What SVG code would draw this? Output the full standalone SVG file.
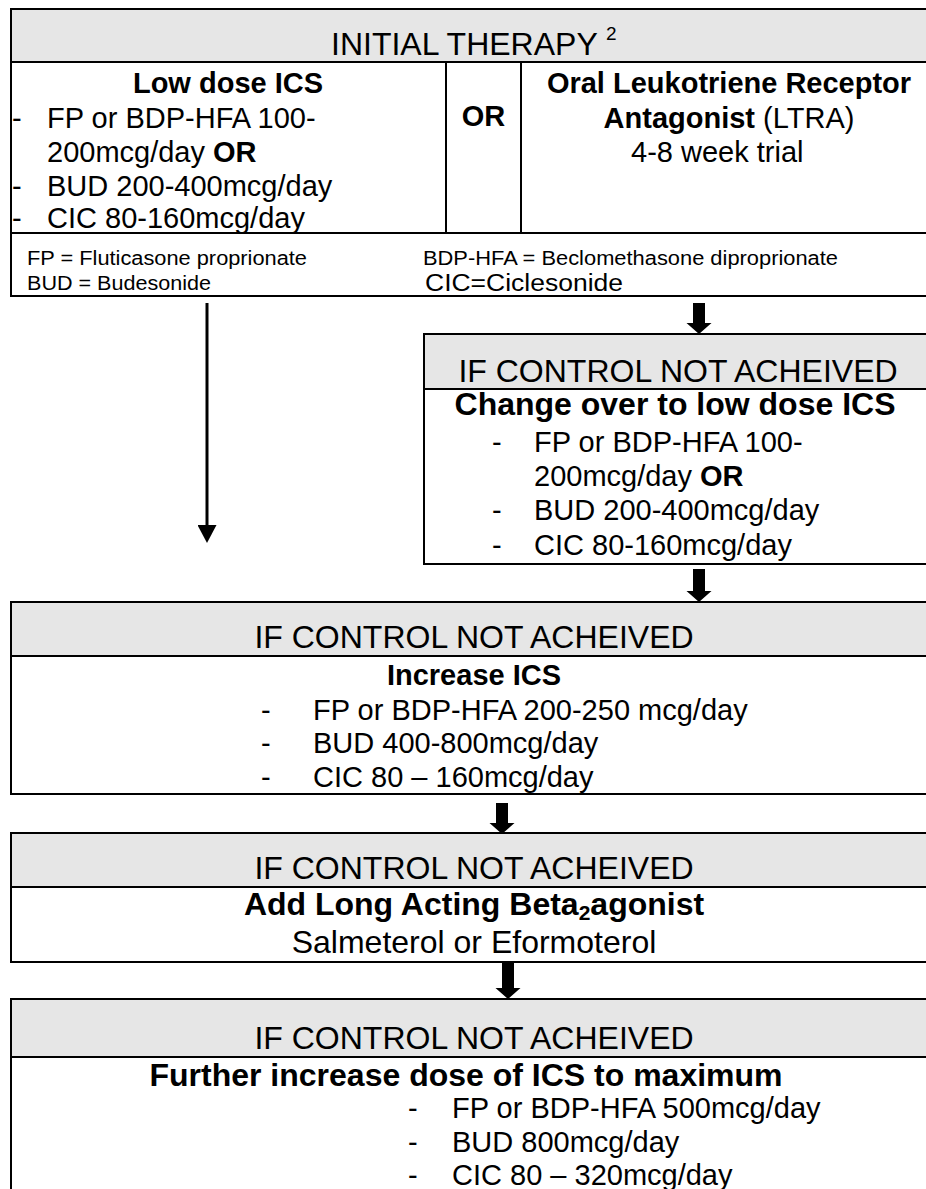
<svg xmlns="http://www.w3.org/2000/svg" width="926" height="1189" viewBox="0 0 926 1189">
<style>
.box{fill:#fff;stroke:#000;stroke-width:2}
.hdr{fill:#e6e6e6;stroke:#000;stroke-width:2}
.ln{stroke:#000;stroke-width:2;fill:none}
text{font-family:"Liberation Sans",Arial,Helvetica,sans-serif;fill:#000}
.h{font-size:32px}
.b{font-size:29px}
.bb{font-size:29px;font-weight:bold}
.hb{font-size:32px;font-weight:bold}
.fn{font-size:20px}
.c{text-anchor:middle}
.arw{fill:#000}
</style>
<defs>
<marker id="ah" markerWidth="18" markerHeight="19" refX="2" refY="9.5" orient="auto" markerUnits="userSpaceOnUse" viewBox="0 0 18 19">
<path d="M0 0 L18 9.5 L0 19 Z" fill="#000"/>
</marker>
</defs>

<g id="initial-therapy">
<rect class="box" x="11" y="9" width="935" height="287"/>
<rect class="hdr" x="11" y="9" width="935" height="53"/>
<line class="ln" x1="11" y1="233" x2="946" y2="233"/>
<line class="ln" x1="446" y1="62" x2="446" y2="233"/>
<line class="ln" x1="521" y1="62" x2="521" y2="233"/>
<text class="h" x="331" y="55">INITIAL THERAPY</text>
<text x="606" y="40" style="font-size:19px">2</text>
<text class="bb c" x="228" y="93">Low dose ICS</text>
<text class="b" x="12" y="128">-</text>
<text class="b" x="47" y="128">FP or BDP-HFA 100-</text>
<text class="b" x="47" y="162">200mcg/day <tspan font-weight="bold">OR</tspan></text>
<text class="b" x="12" y="196">-</text>
<text class="b" x="47" y="196">BUD 200-400mcg/day</text>
<text class="b" x="12" y="228">-</text>
<text class="b" x="47" y="228">CIC 80-160mcg/day</text>
<text class="bb c" x="483.5" y="126">OR</text>
<text class="bb c" x="729" y="93">Oral Leukotriene Receptor</text>
<text class="b c" x="729" y="128"><tspan font-weight="bold">Antagonist</tspan> (LTRA)</text>
<text class="b" x="631" y="162">4-8 week trial</text>
<text class="fn" x="27" y="265" textLength="280" lengthAdjust="spacingAndGlyphs">FP = Fluticasone proprionate</text>
<text class="fn" x="27" y="290" textLength="184" lengthAdjust="spacingAndGlyphs">BUD = Budesonide</text>
<text class="fn" x="423" y="265" textLength="415" lengthAdjust="spacingAndGlyphs">BDP-HFA = Beclomethasone diproprionate</text>
<text x="425" y="291" style="font-size:23px" textLength="198" lengthAdjust="spacingAndGlyphs">CIC=Ciclesonide</text>
</g>

<g id="change-over">
<rect class="box" x="424" y="334" width="522" height="230"/>
<rect class="hdr" x="424" y="334" width="522" height="55"/>
<text class="h c" x="678" y="382">IF CONTROL NOT ACHEIVED</text>
<text class="hb c" x="675" y="415">Change over to low dose ICS</text>
<text class="b" x="492" y="452">-</text>
<text class="b" x="534" y="452">FP or BDP-HFA 100-</text>
<text class="b" x="534" y="486">200mcg/day <tspan font-weight="bold">OR</tspan></text>
<text class="b" x="492" y="520">-</text>
<text class="b" x="534" y="520">BUD 200-400mcg/day</text>
<text class="b" x="492" y="555">-</text>
<text class="b" x="534" y="555">CIC 80-160mcg/day</text>
</g>

<g id="increase-ics">
<rect class="box" x="11" y="602" width="935" height="192"/>
<rect class="hdr" x="11" y="602" width="935" height="54"/>
<text class="h c" x="474" y="648">IF CONTROL NOT ACHEIVED</text>
<text class="bb c" x="474" y="685">Increase ICS</text>
<text class="b" x="261" y="720">-</text>
<text class="b" x="313" y="720">FP or BDP-HFA 200-250 mcg/day</text>
<text class="b" x="261" y="753">-</text>
<text class="b" x="313" y="753">BUD 400-800mcg/day</text>
<text class="b" x="261" y="787">-</text>
<text class="b" x="313" y="787">CIC 80 – 160mcg/day</text>
</g>

<g id="add-laba">
<rect class="box" x="11" y="833" width="935" height="129"/>
<rect class="hdr" x="11" y="833" width="935" height="54"/>
<text class="h c" x="474" y="879">IF CONTROL NOT ACHEIVED</text>
<text class="hb c" x="474" y="915">Add Long Acting Beta<tspan style="font-size:21px" dy="5">2</tspan><tspan dy="-5">agonist</tspan></text>
<text class="h c" x="474" y="953">Salmeterol or Eformoterol</text>
</g>

<g id="maximum-ics">
<rect class="box" x="11" y="999" width="935" height="230"/>
<rect class="hdr" x="11" y="999" width="935" height="58"/>
<text class="h c" x="474" y="1049">IF CONTROL NOT ACHEIVED</text>
<text class="hb c" x="466" y="1086">Further increase dose of ICS to maximum</text>
<text class="b" x="408" y="1118">-</text>
<text class="b" x="452" y="1118">FP or BDP-HFA 500mcg/day</text>
<text class="b" x="408" y="1152">-</text>
<text class="b" x="452" y="1152">BUD 800mcg/day</text>
<text class="b" x="408" y="1185">-</text>
<text class="b" x="452" y="1185">CIC 80 – 320mcg/day</text>
</g>

<g id="connectors">
<line x1="207" y1="303" x2="207" y2="527" stroke="#000" stroke-width="3" marker-end="url(#ah)"/>
<path class="arw" d="M693 303 H705 V323 H711.5 L699 334 L686.5 323 H693 Z"/>
<path class="arw" d="M693 569 H705 V591 H711.5 L699 602 L686.5 591 H693 Z"/>
<path class="arw" d="M496 803 H508 V823 H514.5 L502 834 L489.5 823 H496 Z"/>
<path class="arw" d="M502 963 H514 V988 H520.5 L508 999 L495.5 988 H502 Z"/>
</g>
</svg>
